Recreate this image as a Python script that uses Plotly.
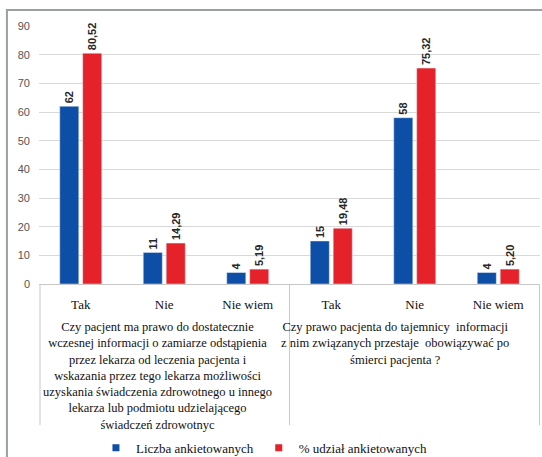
import plotly.graph_objects as go

categories = ["Tak", "Nie", "Nie wiem", "Tak", "Nie", "Nie wiem"]
count_values = [62, 11, 4, 15, 58, 4]
pct_values = [80.52, 14.29, 5.19, 19.48, 75.32, 5.20]
count_labels = ["62", "11", "4", "15", "58", "4"]
pct_labels = ["80,52", "14,29", "5,19", "19,48", "75,32", "5,20"]
series_names = ["Liczba ankietowanych", "% udział ankietowanych"]
question_1 = ("Czy pacjent ma prawo do dostatecznie<br>wczesnej informacji o zamiarze odstąpienia<br>"
              "przez lekarza od leczenia pacjenta i<br>wskazania przez tego lekarza możliwości<br>"
              "uzyskania świadczenia zdrowotnego u innego<br>lekarza lub podmiotu udzielającego<br>"
              "świadczeń zdrowotnyc")
question_2 = ("Czy prawo pacjenta do tajemnicy  informacji<br>z nim związanych przestaje  obowiązywać po<br>"
              "śmierci pacjenta ?")
y_ticks = list(range(0, 91, 10))

BLUE = "#0d4ea6"
RED = "#e52129"
x_pos = list(range(len(categories)))

fig = go.Figure()
label_font = dict(family="Liberation Sans", size=11, color="#262626")
fig.add_trace(go.Bar(x=x_pos, y=count_values, name=series_names[0], marker_color=BLUE,
                     text=[f"<b>{t}</b>" for t in count_labels], textposition="outside",
                     textangle=-90, textfont=label_font, cliponaxis=False,
                     constraintext="none", showlegend=False))
fig.add_trace(go.Bar(x=x_pos, y=pct_values, name=series_names[1], marker_color=RED,
                     text=[f"<b>{t}</b>" for t in pct_labels], textposition="outside",
                     textangle=-90, textfont=label_font, cliponaxis=False,
                     constraintext="none", showlegend=False))
# legend entries with small square markers
for nm, col in zip(series_names, [BLUE, RED]):
    fig.add_trace(go.Scatter(x=[None], y=[None], mode="markers", name=nm,
                             marker=dict(symbol="square", size=7, color=col)))

serif = "Times New Roman, Liberation Serif, DejaVu Serif, serif"
fig.update_layout(
    width=542, height=457,
    margin=dict(l=39, r=2, t=26, b=173, autoexpand=False),
    paper_bgcolor="white", plot_bgcolor="white",
    barmode="group", bargap=0.45, bargroupgap=0.17,
    showlegend=True,
    legend=dict(orientation="h", x=0.45, xanchor="center", y=-0.635, yanchor="middle",
                font=dict(family=serif, size=13, color="#111"), itemwidth=30,
                bgcolor="rgba(0,0,0,0)"),
    xaxis=dict(range=[-0.5, 5.5], tickvals=x_pos, ticktext=categories, ticks="",
               tickfont=dict(family=serif, size=13, color="#111"), ticklabelstandoff=8,
               showgrid=False, zeroline=False, showline=True, linecolor="#c8c8c8",
               linewidth=1, automargin=False),
    yaxis=dict(range=[0, 90], tickvals=y_ticks, showgrid=True, gridcolor="#d9d9d9",
               gridwidth=1, zeroline=False, showline=False, ticks="",
               tickfont=dict(family="Liberation Sans", size=11, color="#555"),
               ticklabelstandoff=8, automargin=False),
    annotations=[
        dict(text=question_1, x=0.92, xref="x", y=-0.13, yref="paper", yanchor="top",
             xanchor="center", align="center", showarrow=False,
             font=dict(family=serif, size=12.5, color="#111")),
        dict(text=question_2, x=3.76, xref="x", y=-0.13, yref="paper", yanchor="top",
             xanchor="center", align="center", showarrow=False,
             font=dict(family=serif, size=12.5, color="#111")),
    ],
    shapes=[
        dict(type="line", xref="paper", yref="paper", x0=0.002, x1=0.002, y0=0, y1=-0.547,
             line=dict(color="#c8c8c8", width=1)),
        dict(type="line", xref="paper", yref="paper", x0=0.5, x1=0.5, y0=0, y1=-0.547,
             line=dict(color="#c8c8c8", width=1)),
        dict(type="line", xref="paper", yref="paper", x0=0.999, x1=0.999, y0=0, y1=-0.547,
             line=dict(color="#c8c8c8", width=1)),
        dict(type="rect", xref="paper", yref="paper", x0=-0.064, x1=1.2, y0=-0.9, y1=1.062,
             line=dict(color="#9aa0a0", width=2), layer="below"),
    ],
)

fig.write_html("out.html")
